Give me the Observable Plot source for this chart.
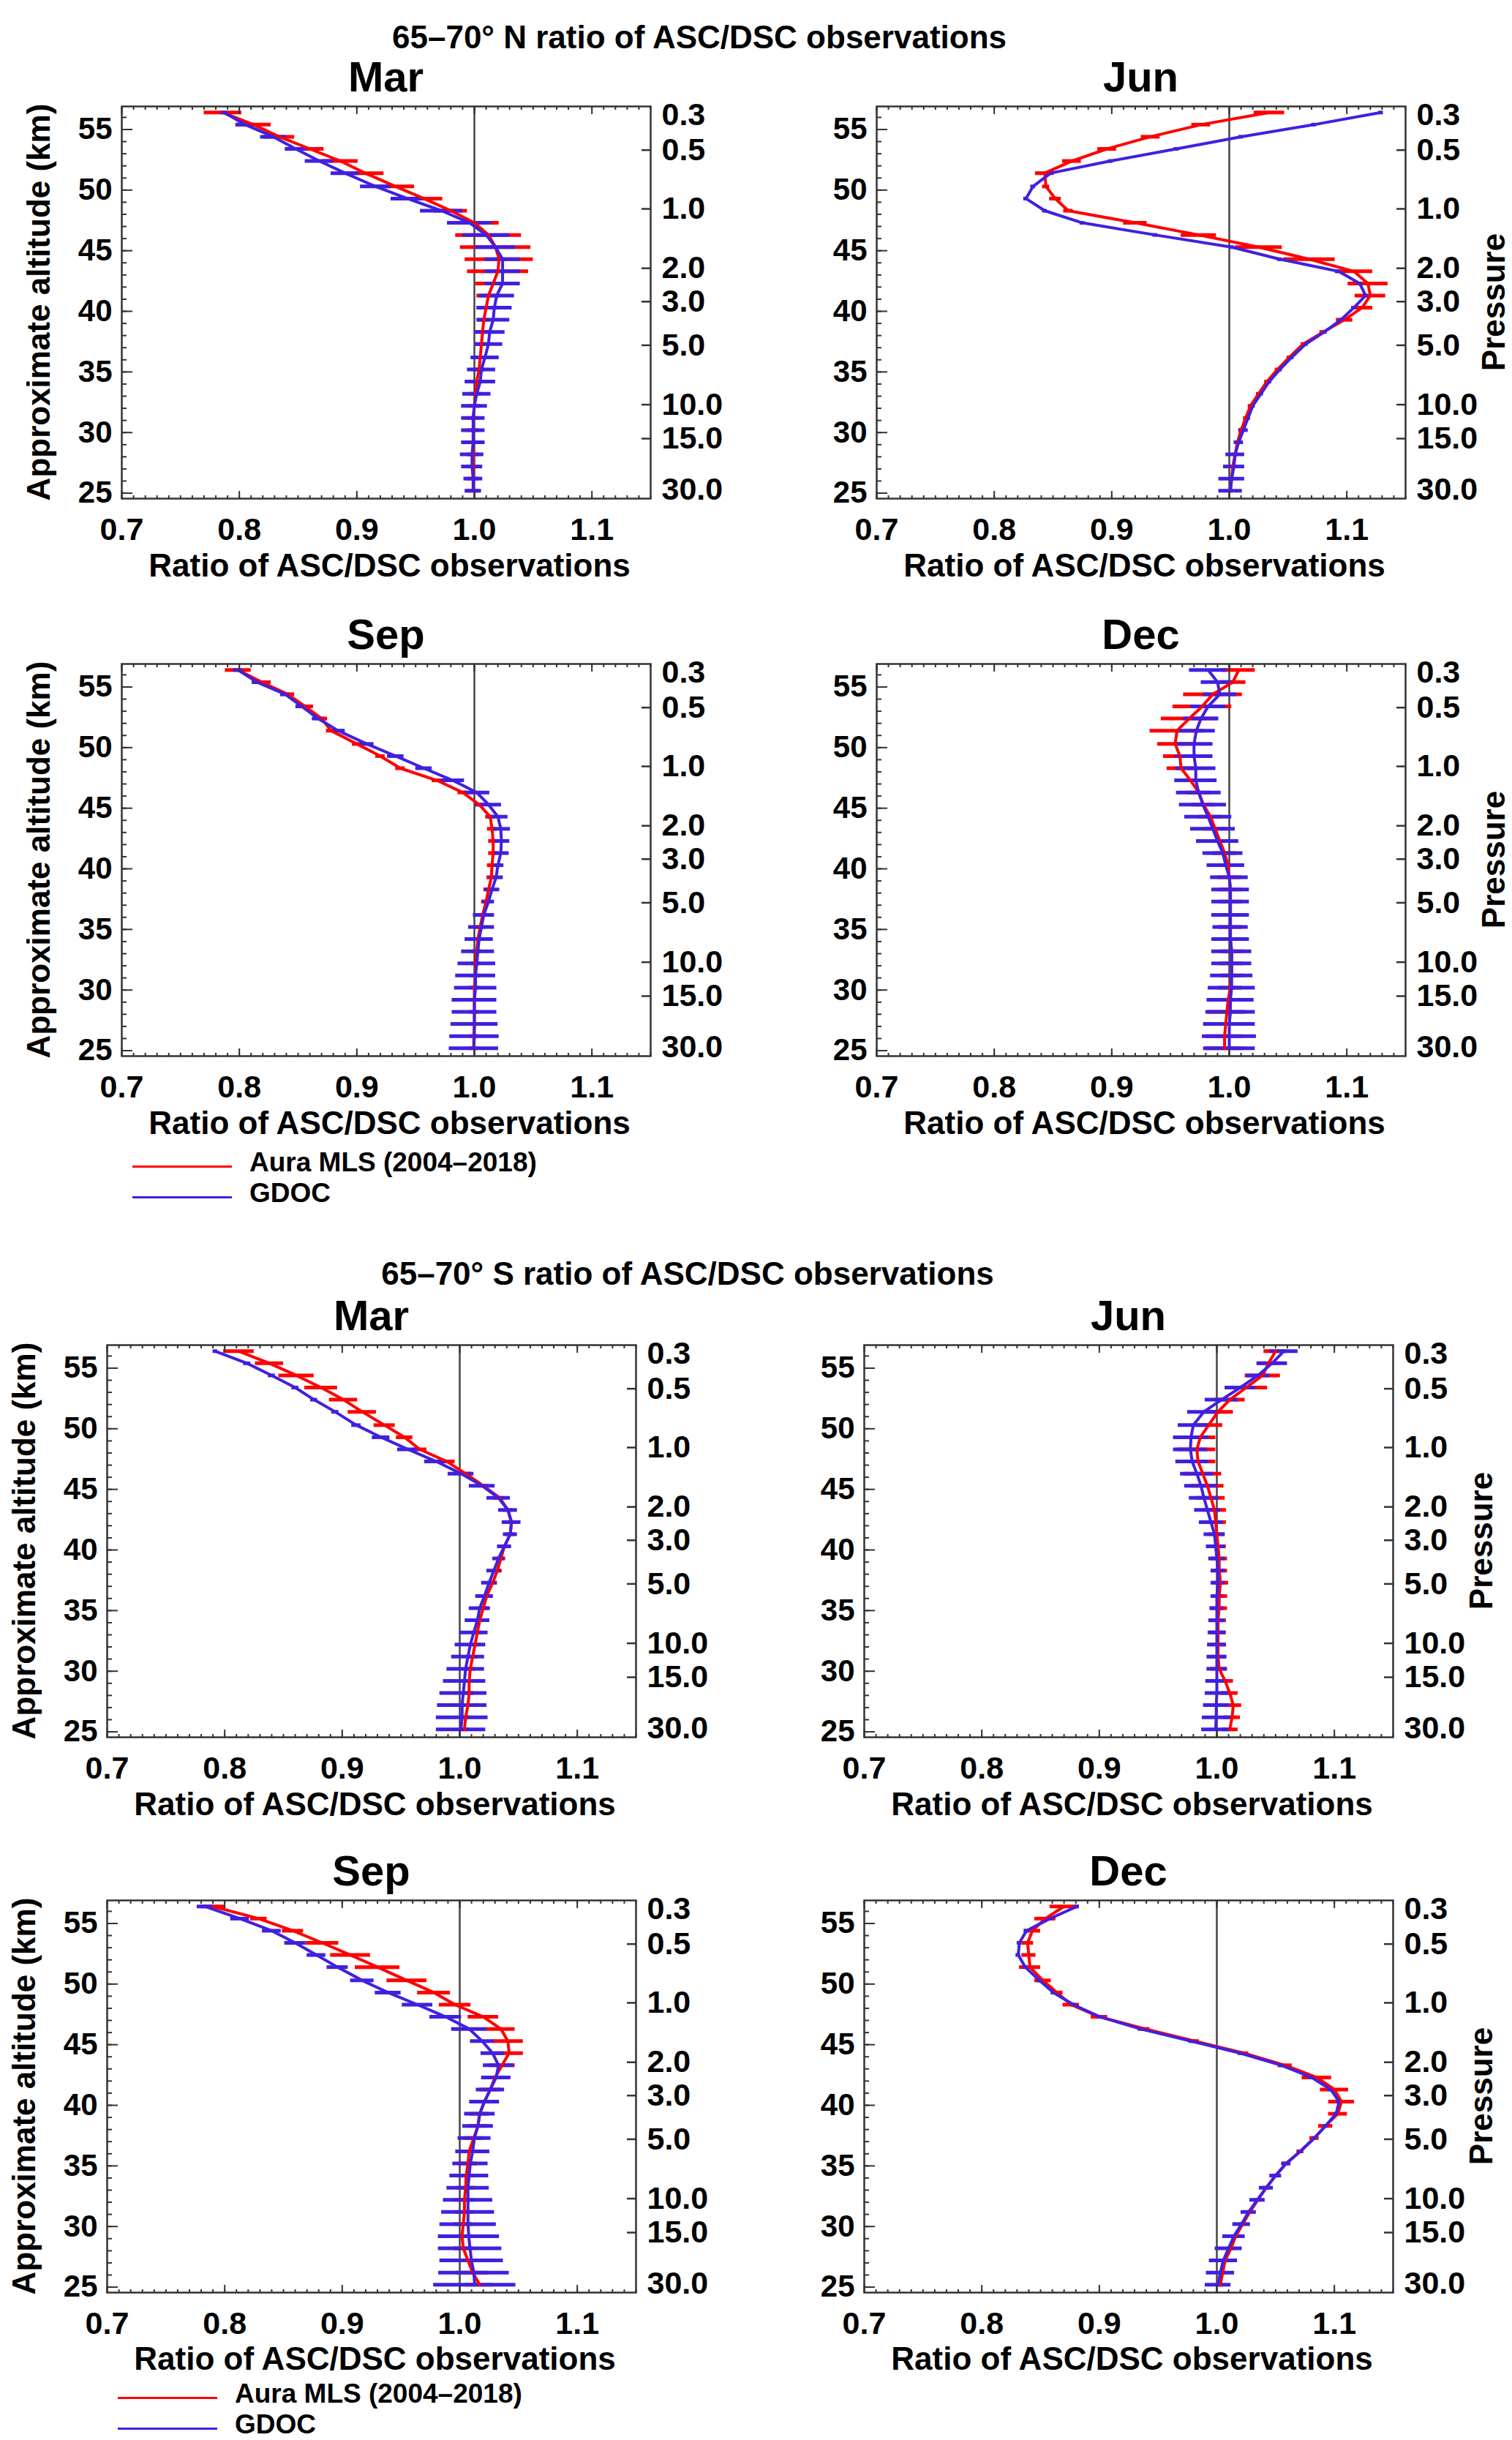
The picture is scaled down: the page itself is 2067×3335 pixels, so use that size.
<!DOCTYPE html>
<html>
<head>
<meta charset="utf-8">
<script src="https://cdn.jsdelivr.net/npm/d3@7"></script>
<script src="https://cdn.jsdelivr.net/npm/@observablehq/plot@0.6"></script>
<style>
  body { margin: 0; background: #fff; }
  #page { position: relative; width: 2067px; height: 3335px; overflow: hidden; background: #fff;
          font-family: "Liberation Sans", Arial, sans-serif; font-weight: bold; color: #000; }
  .t { position: absolute; white-space: nowrap; line-height: 1; transform: translate(-50%, -50%); }
  .l { position: absolute; white-space: nowrap; line-height: 1; transform: translate(0, -50%); }
  .v { position: absolute; white-space: nowrap; line-height: 1; transform: translate(-50%, -50%) rotate(-90deg); }
  .panel { position: absolute; }
  .key { position: absolute; height: 3px; }
</style>
</head>
<body>
<div id="page"></div>
<script>
// altitude levels (km), top to bottom
const alts = [56.4, 55.4, 54.4, 53.4, 52.4, 51.4, 50.3, 49.3, 48.3, 47.3, 46.3, 45.3, 44.3, 43.3, 42.3, 41.3,
  40.3, 39.3, 38.3, 37.3, 36.2, 35.2, 34.2, 33.2, 32.2, 31.2, 30.2, 29.2, 28.2, 27.2, 26.2, 25.2]

const months = ["Mar", "Jun", "Sep", "Dec"]
const sectionTitles = ["65–70° N ratio of ASC/DSC observations", "65–70° S ratio of ASC/DSC observations"]
const seriesNames = ["Aura MLS (2004–2018)", "GDOC"]

const xTicks = [0.7, 0.8, 0.9, 1.0, 1.1]
const altTicks = [25, 30, 35, 40, 45, 50, 55]
const pressureLabels = ["0.3", "0.5", "1.0", "2.0", "3.0", "5.0", "10.0", "15.0", "30.0"]
const pressureAlts = [56.2, 53.3, 48.45, 43.55, 40.8, 37.2, 32.3, 29.5, 25.3]

// 65-70 N
const nMarMls = [0.786, 0.812, 0.834, 0.860, 0.886, 0.907, 0.933, 0.957, 0.980, 1.000, 1.012, 1.018, 1.021, 1.020, 1.016, 1.012,
  1.010, 1.008, 1.007, 1.006, 1.005, 1.004, 1.002, 1.001, 1.000, 0.999, 0.999, 0.999, 0.999, 0.999, 0.999, 0.999]
const nMarMlsErr = [0.016, 0.015, 0.013, 0.012, 0.015, 0.016, 0.016, 0.016, 0.014, 0.021, 0.028, 0.030, 0.029, 0.026, 0.015, 0.010,
  0.005, 0.005, 0.005, 0.005, 0.005, 0.005, 0.005, 0.005, 0.005, 0.005, 0.005, 0.005, 0.005, 0.005, 0.005, 0.005]
const nMarGdoc = [0.787, 0.805, 0.829, 0.848, 0.868, 0.890, 0.916, 0.943, 0.972, 0.996, 1.010, 1.018, 1.024, 1.024, 1.024, 1.019,
  1.017, 1.016, 1.013, 1.012, 1.009, 1.006, 1.005, 1.002, 1.000, 0.999, 0.999, 0.999, 0.998, 0.998, 0.999, 0.999]
const nMarGdocErr = [0.003, 0.008, 0.011, 0.009, 0.012, 0.012, 0.013, 0.014, 0.018, 0.019, 0.020, 0.017, 0.015, 0.015, 0.015, 0.015,
  0.015, 0.014, 0.013, 0.012, 0.012, 0.012, 0.013, 0.012, 0.011, 0.010, 0.010, 0.010, 0.010, 0.009, 0.008, 0.007]

const nJunMls = [1.034, 0.976, 0.933, 0.896, 0.866, 0.843, 0.844, 0.852, 0.863, 0.920, 0.974, 1.025, 1.068, 1.106, 1.118, 1.120,
  1.113, 1.098, 1.080, 1.063, 1.051, 1.041, 1.032, 1.025, 1.018, 1.014, 1.010, 1.007, 1.005, 1.003, 1.002, 1.001]
const nJunMlsErr = [0.013, 0.008, 0.008, 0.008, 0.008, 0.008, 0.003, 0.005, 0.004, 0.010, 0.015, 0.020, 0.022, 0.016, 0.017, 0.013,
  0.009, 0.007, 0.003, 0.002, 0.002, 0.002, 0.002, 0.002, 0.002, 0.002, 0.002, 0.002, 0.002, 0.002, 0.002, 0.002]
const nJunGdoc = [1.129, 1.072, 1.010, 0.955, 0.899, 0.848, 0.833, 0.827, 0.843, 0.875, 0.937, 1.002, 1.043, 1.093, 1.111, 1.116,
  1.106, 1.095, 1.081, 1.065, 1.053, 1.043, 1.034, 1.027, 1.020, 1.016, 1.012, 1.008, 1.005, 1.004, 1.002, 1.001]
const nJunGdocErr = [0.002, 0.002, 0.002, 0.002, 0.002, 0.002, 0.002, 0.002, 0.002, 0.002, 0.002, 0.002, 0.002, 0.002, 0.002, 0.002,
  0.002, 0.002, 0.002, 0.002, 0.002, 0.002, 0.002, 0.002, 0.002, 0.002, 0.004, 0.004, 0.008, 0.009, 0.011, 0.010]

const nSepMls = [0.799, 0.819, 0.841, 0.856, 0.870, 0.878, 0.900, 0.920, 0.937, 0.968, 0.990, 1.004, 1.0135, 1.015, 1.016, 1.016,
  1.015, 1.0145, 1.012, 1.010, 1.007, 1.005, 1.003, 1.002, 1.001, 1.001, 1.000, 1.000, 1.000, 1.000, 0.9995, 0.9995]
const nSepMlsErr = [0.011, 0.008, 0.006, 0.007, 0.005, 0.004, 0.004, 0.004, 0.004, 0.004, 0.004, 0.004, 0.004, 0.004, 0.004, 0.004,
  0.004, 0.004, 0.004, 0.004, 0.004, 0.004, 0.004, 0.004, 0.004, 0.004, 0.004, 0.004, 0.004, 0.004, 0.004, 0.004]
const nSepGdoc = [0.799, 0.815, 0.839, 0.853, 0.867, 0.884, 0.9085, 0.933, 0.957, 0.9815, 1.002, 1.012, 1.020, 1.0225, 1.023, 1.0225,
  1.020, 1.0185, 1.015, 1.012, 1.008, 1.006, 1.004, 1.003, 1.002, 1.001, 1.001, 1.000, 1.000, 1.000, 1.000, 0.9995]
const nSepGdocErr = [0.004, 0.004, 0.004, 0.005, 0.005, 0.006, 0.006, 0.007, 0.007, 0.010, 0.011, 0.011, 0.0085, 0.008, 0.007, 0.007,
  0.005, 0.006, 0.0065, 0.005, 0.009, 0.011, 0.012, 0.014, 0.016, 0.017, 0.018, 0.019, 0.019, 0.020, 0.021, 0.021]

const nDecMls = [1.008, 1.003, 0.986, 0.977, 0.966, 0.9555, 0.954, 0.958, 0.959, 0.967, 0.974, 0.978, 0.984, 0.988, 0.992, 0.996,
  0.999, 1.000, 1.001, 1.001, 1.001, 1.001, 1.001, 1.002, 1.002, 1.002, 1.001, 0.999, 0.998, 0.997, 0.996, 0.996]
const nDecMlsErr = [0.014, 0.011, 0.025, 0.025, 0.024, 0.023, 0.015, 0.014, 0.012, 0.010, 0.010, 0.010, 0.010, 0.010, 0.010, 0.010,
  0.010, 0.010, 0.010, 0.010, 0.010, 0.010, 0.010, 0.010, 0.010, 0.010, 0.010, 0.016, 0.016, 0.016, 0.016, 0.016]
const nDecGdoc = [0.982, 0.990, 0.992, 0.982, 0.976, 0.972, 0.970, 0.970, 0.9715, 0.9715, 0.974, 0.9775, 0.982, 0.986, 0.990, 0.9945,
  0.997, 1.000, 1.001, 1.001, 1.001, 1.001, 1.001, 1.002, 1.002, 1.002, 1.002, 1.001, 1.001, 1.000, 1.000, 1.000]
const nDecGdocErr = [0.016, 0.014, 0.014, 0.015, 0.015, 0.016, 0.016, 0.016, 0.017, 0.018, 0.019, 0.020, 0.020, 0.019, 0.018, 0.017,
  0.016, 0.016, 0.016, 0.016, 0.016, 0.015, 0.016, 0.017, 0.017, 0.018, 0.020, 0.020, 0.021, 0.022, 0.023, 0.022]

// 65-70 S
const sMarMls = [0.812, 0.838, 0.861, 0.882, 0.901, 0.917, 0.936, 0.953, 0.966, 0.989, 1.005, 1.020, 1.034, 1.041, 1.044, 1.043,
  1.038, 1.035, 1.032, 1.028, 1.023, 1.020, 1.017, 1.015, 1.013, 1.011, 1.009, 1.008, 1.008, 1.007, 1.005, 1.004]
const sMarMlsErr = [0.013, 0.012, 0.015, 0.014, 0.012, 0.012, 0.009, 0.007, 0.006, 0.007, 0.005, 0.004, 0.004, 0.004, 0.004, 0.004,
  0.004, 0.004, 0.004, 0.004, 0.004, 0.004, 0.004, 0.004, 0.004, 0.004, 0.004, 0.004, 0.004, 0.004, 0.004, 0.004]
const sMarGdoc = [0.792, 0.819, 0.840, 0.860, 0.876, 0.894, 0.912, 0.933, 0.956, 0.980, 1.001, 1.019, 1.033, 1.041, 1.044, 1.043,
  1.038, 1.033, 1.029, 1.025, 1.021, 1.017, 1.015, 1.012, 1.009, 1.007, 1.005, 1.004, 1.003, 1.002, 1.002, 1.001]
const sMarGdocErr = [0.002, 0.003, 0.003, 0.003, 0.003, 0.003, 0.004, 0.0075, 0.009, 0.010, 0.011, 0.011, 0.010, 0.008, 0.008, 0.006,
  0.006, 0.005, 0.006, 0.0065, 0.0075, 0.009, 0.0105, 0.012, 0.013, 0.014, 0.016, 0.018, 0.020, 0.021, 0.022, 0.021]

const sJunMls = [1.050, 1.044, 1.039, 1.025, 1.011, 1.001, 0.993, 0.986, 0.983, 0.984, 0.988, 0.992, 0.995, 0.998, 0.999, 1.000,
  1.001, 1.002, 1.002, 1.003, 1.002, 1.002, 1.001, 1.001, 1.001, 1.001, 1.002, 1.007, 1.011, 1.014, 1.013, 1.011]
const sJunMlsErr = [0.010, 0.009, 0.015, 0.018, 0.013, 0.013, 0.012, 0.013, 0.016, 0.015, 0.016, 0.014, 0.012, 0.010, 0.009, 0.007,
  0.007, 0.007, 0.007, 0.007, 0.007, 0.007, 0.007, 0.007, 0.007, 0.007, 0.007, 0.007, 0.007, 0.007, 0.007, 0.007]
const sJunGdoc = [1.057, 1.047, 1.035, 1.020, 1.004, 0.989, 0.980, 0.978, 0.9775, 0.979, 0.983, 0.9865, 0.989, 0.992, 0.995, 0.998,
  0.999, 1.000, 1.001, 1.001, 1.000, 1.000, 1.000, 1.000, 1.000, 1.000, 1.000, 1.000, 1.000, 0.9995, 0.9995, 0.999]
const sJunGdocErr = [0.012, 0.013, 0.010, 0.013, 0.014, 0.014, 0.013, 0.015, 0.0145, 0.014, 0.014, 0.014, 0.0125, 0.011, 0.010, 0.009,
  0.008, 0.007, 0.006, 0.006, 0.005, 0.006, 0.007, 0.0075, 0.008, 0.0085, 0.0085, 0.0095, 0.010, 0.011, 0.012, 0.012]

const sSepMls = [0.790, 0.829, 0.858, 0.883, 0.907, 0.930, 0.955, 0.978, 0.996, 1.020, 1.035, 1.041, 1.042, 1.036, 1.030, 1.026,
  1.021, 1.017, 1.0155, 1.012, 1.008, 1.007, 1.0055, 1.005, 1.004, 1.004, 1.003, 1.002, 1.003, 1.007, 1.011, 1.017]
const sSepMlsErr = [0.010, 0.007, 0.009, 0.014, 0.017, 0.019, 0.017, 0.014, 0.0135, 0.013, 0.012, 0.013, 0.012, 0.011, 0.010, 0.009,
  0.008, 0.008, 0.008, 0.008, 0.008, 0.008, 0.008, 0.008, 0.008, 0.008, 0.008, 0.008, 0.008, 0.012, 0.014, 0.012]
const sSepGdoc = [0.7835, 0.813, 0.840, 0.860, 0.878, 0.896, 0.917, 0.939, 0.964, 0.988, 1.008, 1.019, 1.028, 1.033, 1.031, 1.026,
  1.021, 1.017, 1.0155, 1.0125, 1.011, 1.009, 1.008, 1.007, 1.007, 1.007, 1.007, 1.0077, 1.0087, 1.010, 1.012, 1.0127]
const sSepGdocErr = [0.007, 0.008, 0.008, 0.009, 0.008, 0.009, 0.010, 0.011, 0.013, 0.0135, 0.015, 0.010, 0.010, 0.013, 0.0125, 0.012,
  0.0127, 0.013, 0.013, 0.014, 0.0145, 0.015, 0.0165, 0.018, 0.021, 0.0225, 0.024, 0.026, 0.027, 0.027, 0.030, 0.035]

const sDecMls = [0.870, 0.854, 0.843, 0.839, 0.840, 0.841, 0.852, 0.864, 0.876, 0.900, 0.939, 0.981, 1.023, 1.058, 1.085, 1.100,
  1.106, 1.103, 1.0925, 1.083, 1.071, 1.059, 1.050, 1.042, 1.035, 1.028, 1.022, 1.016, 1.012, 1.007, 1.005, 1.003]
const sDecMlsErr = [0.012, 0.009, 0.007, 0.005, 0.006, 0.009, 0.007, 0.005, 0.007, 0.007, 0.004, 0.004, 0.004, 0.006, 0.0125, 0.012,
  0.011, 0.008, 0.006, 0.004, 0.003, 0.003, 0.003, 0.003, 0.003, 0.003, 0.003, 0.003, 0.003, 0.003, 0.003, 0.003]
const sDecGdoc = [0.881, 0.858, 0.838, 0.832, 0.831, 0.837, 0.849, 0.861, 0.878, 0.9005, 0.935, 0.978, 1.020, 1.055, 1.0805, 1.097,
  1.104, 1.1015, 1.0925, 1.083, 1.071, 1.059, 1.050, 1.042, 1.0345, 1.027, 1.021, 1.0145, 1.010, 1.0055, 1.003, 1.001]
const sDecGdocErr = [0.002, 0.002, 0.002, 0.002, 0.002, 0.002, 0.002, 0.002, 0.002, 0.002, 0.002, 0.002, 0.002, 0.002, 0.002, 0.002,
  0.002, 0.002, 0.002, 0.002, 0.002, 0.004, 0.005, 0.006, 0.0065, 0.0065, 0.0075, 0.0095, 0.0115, 0.012, 0.012, 0.011]

const RED = "#ff0000"
const BLUE = "#4020e0"
const FW = 723, FH = 536, ML = 70, MR = 120, MT = 14, MB = 70

const page = document.getElementById("page")

function addText(cls, x, y, txt, size) {
  const d = document.createElement("div")
  d.className = cls
  d.style.left = x + "px"
  d.style.top = y + "px"
  d.style.fontSize = size + "px"
  d.textContent = txt
  page.appendChild(d)
}

function addKey(x, y, w, color) {
  const d = document.createElement("div")
  d.className = "key"
  d.style.left = x + "px"
  d.style.top = (y - 1.5) + "px"
  d.style.width = w + "px"
  d.style.background = color
  page.appendChild(d)
}

function panel(p) {
  const rows = alts.map((alt, i) => ({alt, mls: p.mls[i], mlsErr: p.mlsErr[i], gdoc: p.gdoc[i], gdocErr: p.gdocErr[i]}))
  const pressureText = new Map(pressureAlts.map((a, i) => [a, pressureLabels[i]]))
  const chart = Plot.plot({
    width: FW + ML + MR,
    height: FH + MT + MB,
    marginLeft: ML, marginRight: MR, marginTop: MT, marginBottom: MB,
    x: {domain: [0.7, 1.15], label: null},
    y: {domain: [24.55, 56.9], label: null},
    style: {fontFamily: "'Liberation Sans', Arial, sans-serif", fontWeight: "bold", fontSize: "42px", color: "#000", background: "transparent", overflow: "visible"},
    marks: [
      Plot.ruleX([1], {stroke: "#444", strokeWidth: 2.5}),
      Plot.ruleY(rows, {y: "alt", x1: d => d.mls - d.mlsErr, x2: d => d.mls + d.mlsErr, stroke: RED, strokeWidth: 5}),
      Plot.ruleY(rows, {y: "alt", x1: d => d.gdoc - d.gdocErr, x2: d => d.gdoc + d.gdocErr, stroke: BLUE, strokeWidth: 5}),
      Plot.line(rows, {x: "mls", y: "alt", stroke: RED, strokeWidth: 4}),
      Plot.line(rows, {x: "gdoc", y: "alt", stroke: BLUE, strokeWidth: 4}),
      // inward ticks
      Plot.axisX({anchor: "bottom", ticks: d3.range(0.7, 1.151, 0.01), tickSize: -4, fill: "none", stroke: "#333", strokeWidth: 2, label: null}),
      Plot.axisX({anchor: "top", ticks: d3.range(0.7, 1.151, 0.01), tickSize: -4, fill: "none", stroke: "#333", strokeWidth: 2, label: null}),
      Plot.axisX({anchor: "bottom", ticks: xTicks, tickSize: -10, fill: "none", stroke: "#333", strokeWidth: 2, label: null}),
      Plot.axisX({anchor: "top", ticks: xTicks, tickSize: -10, fill: "none", stroke: "#333", strokeWidth: 2, label: null}),
      Plot.axisY({anchor: "left", ticks: d3.range(25, 57), tickSize: -7, fill: "none", stroke: "#333", strokeWidth: 2, label: null}),
      Plot.axisY({anchor: "left", ticks: altTicks, tickSize: -15, fill: "none", stroke: "#333", strokeWidth: 2, label: null}),
      Plot.axisY({anchor: "right", ticks: pressureAlts.slice(1, -1), tickSize: -13, fill: "none", stroke: "#333", strokeWidth: 2.5, label: null}),
      // tick labels
      Plot.axisX({anchor: "bottom", ticks: xTicks, tickSize: 0, tickPadding: 26, tickFormat: d => d.toFixed(1), fontSize: 43, fontWeight: "bold", fill: "#000", label: null}),
      Plot.axisY({anchor: "left", ticks: altTicks, tickSize: 0, tickPadding: 13, fontSize: 42, fontWeight: "bold", fill: "#000", label: null}),
      Plot.axisY({anchor: "right", ticks: pressureAlts, tickSize: 0, tickPadding: 15, tickFormat: d => pressureText.get(d), fontSize: 43, fontWeight: "bold", fill: "#000", label: null}),
      Plot.frame({stroke: "#333", strokeWidth: 2.5})
    ]
  })
  const box = document.createElement("div")
  box.className = "panel"
  box.style.left = (p.left - ML) + "px"
  box.style.top = (p.top - MT) + "px"
  box.appendChild(chart)
  page.appendChild(box)

  const cx = p.left + FW / 2
  addText("t", cx, p.top - 40, p.month, 58)
  addText("t", cx + 5, p.top + FH + p.xlab, "Ratio of ASC/DSC observations", 44)
  if (p.side === "left") addText("v", p.left - 113, p.top + FH / 2, "Approximate altitude (km)", 44)
  else addText("v", p.left + FW + 121, p.top + FH / 2, "Pressure", 44)
}

const panels = [
  {month: months[0], side: "left", left: 166, top: 145, xlab: 92, mls: nMarMls, mlsErr: nMarMlsErr, gdoc: nMarGdoc, gdocErr: nMarGdocErr},
  {month: months[1], side: "right", left: 1198, top: 145, xlab: 92, mls: nJunMls, mlsErr: nJunMlsErr, gdoc: nJunGdoc, gdocErr: nJunGdocErr},
  {month: months[2], side: "left", left: 166, top: 907, xlab: 92, mls: nSepMls, mlsErr: nSepMlsErr, gdoc: nSepGdoc, gdocErr: nSepGdocErr},
  {month: months[3], side: "right", left: 1198, top: 907, xlab: 92, mls: nDecMls, mlsErr: nDecMlsErr, gdoc: nDecGdoc, gdocErr: nDecGdocErr},
  {month: months[0], side: "left", left: 146, top: 1838, xlab: 92, mls: sMarMls, mlsErr: sMarMlsErr, gdoc: sMarGdoc, gdocErr: sMarGdocErr},
  {month: months[1], side: "right", left: 1181, top: 1838, xlab: 92, mls: sJunMls, mlsErr: sJunMlsErr, gdoc: sJunGdoc, gdocErr: sJunGdocErr},
  {month: months[2], side: "left", left: 146, top: 2597, xlab: 91, mls: sSepMls, mlsErr: sSepMlsErr, gdoc: sSepGdoc, gdocErr: sSepGdocErr},
  {month: months[3], side: "right", left: 1181, top: 2597, xlab: 91, mls: sDecMls, mlsErr: sDecMlsErr, gdoc: sDecGdoc, gdocErr: sDecGdocErr}
]

panels.forEach(panel)

// section titles
addText("t", 956, 51, sectionTitles[0], 44)
addText("t", 940, 1741, sectionTitles[1], 44)

// legends (Aura text centre, GDOC text centre 42 px lower)
const legends = [{x: 181, y: 1588}, {x: 161, y: 3271}]
legends.forEach(g => {
  addKey(g.x, g.y + 6, 136, RED)
  addText("l", g.x + 160, g.y, seriesNames[0], 37)
  addKey(g.x, g.y + 48, 136, BLUE)
  addText("l", g.x + 160, g.y + 42, seriesNames[1], 37)
})
</script>
</body>
</html>
